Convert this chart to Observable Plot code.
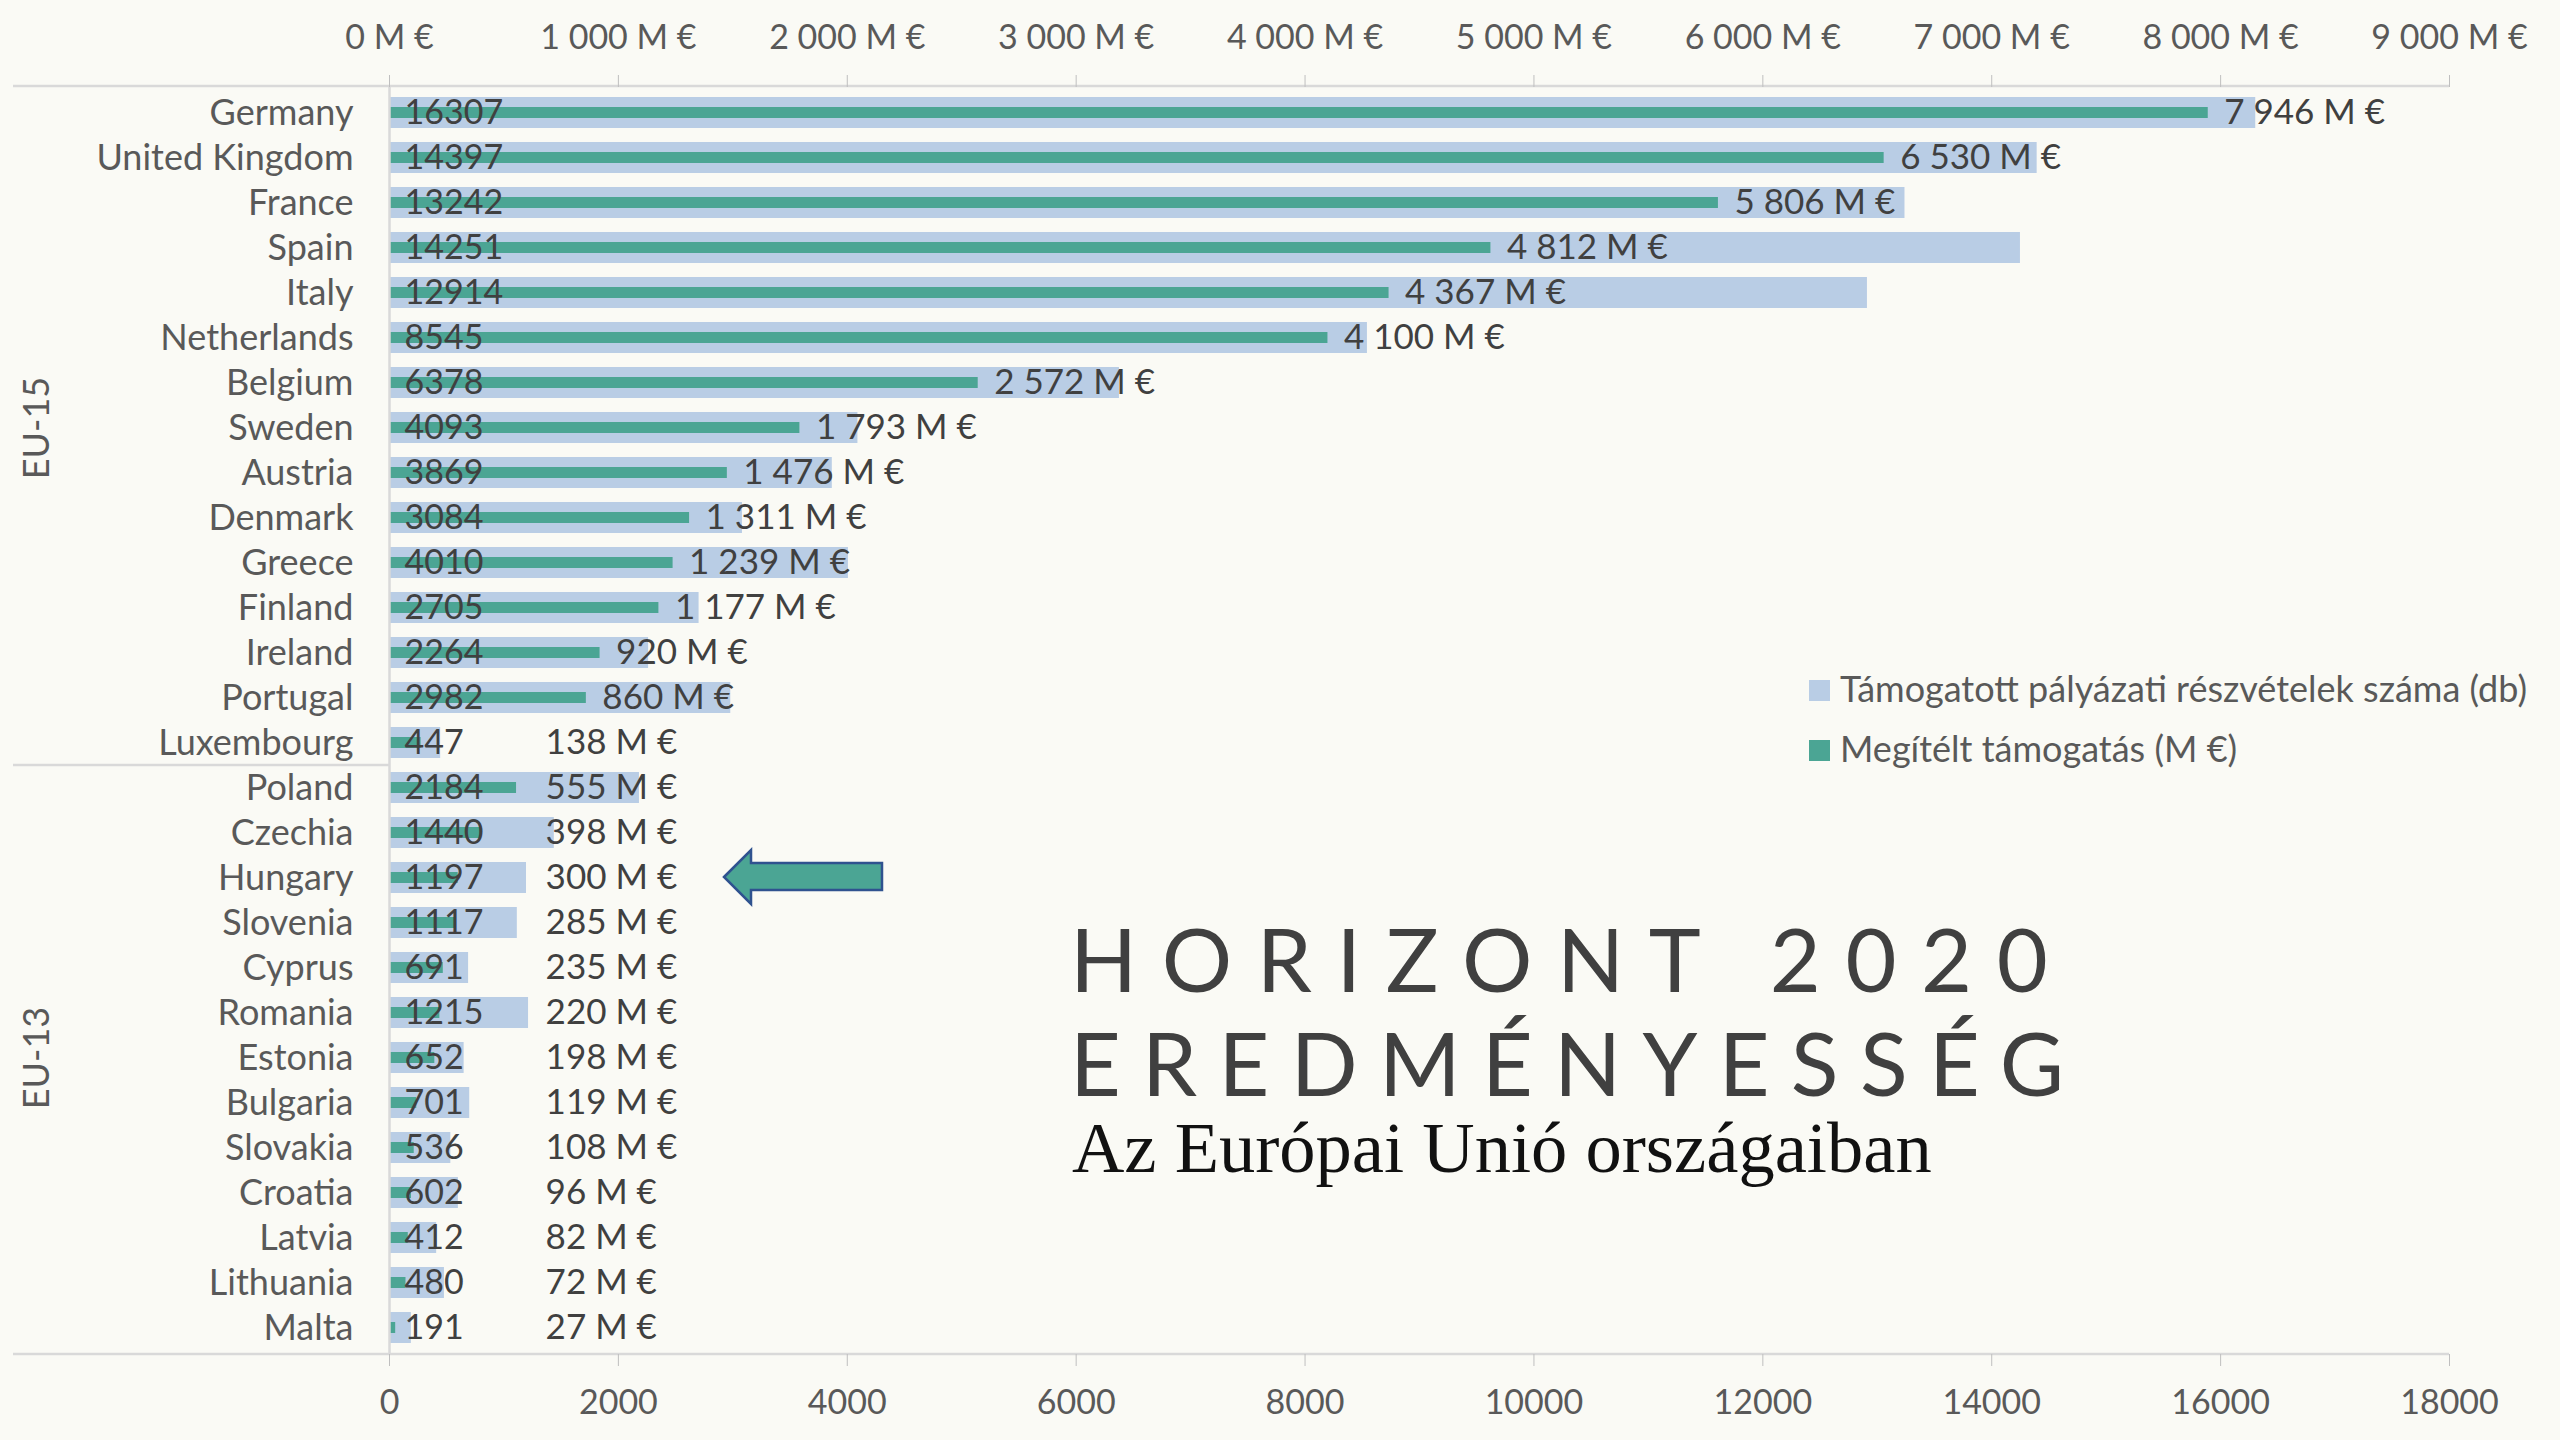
<!DOCTYPE html>
<html>
<head>
<meta charset="utf-8">
<script src="https://cdn.jsdelivr.net/npm/d3@7"></script>
<script src="https://cdn.jsdelivr.net/npm/@observablehq/plot@0.6"></script>
<style>
  html, body { margin: 0; padding: 0; background: #FAFAF5; }
  #wrap { position: relative; width: 2560px; height: 1440px; background: #FAFAF5; font-family: Lato, "Open Sans", sans-serif; }
  #overlay { position: absolute; left: 0; top: 0; pointer-events: none; }
</style>
</head>
<body>
<div id="wrap">
  <div id="chart"></div>
  <svg id="overlay" width="2560" height="1440">
    <g font-family="Lato, 'Open Sans', sans-serif" font-size="36" fill="#595959">
      <rect x="1809" y="680" width="21" height="21" fill="#B9CDE5"></rect>
      <text x="1840" y="702">Támogatott pályázati részvételek száma (db)</text>
      <rect x="1809" y="740" width="21" height="21" fill="#4BA594"></rect>
      <text x="1840" y="762">Megítélt támogatás (M €)</text>
    </g>
    <g font-family="Lato, 'Open Sans', sans-serif" font-size="88" fill="#404040">
      <text x="1070" y="992" letter-spacing="24.6">HORIZONT 2020</text>
      <text x="1070" y="1096" letter-spacing="21.3">EREDMÉNYESSÉG</text>
    </g>
    <text x="1072" y="1172" font-family="'Liberation Serif', serif" font-size="72.5" fill="#111">Az Európai Unió országaiban</text>
    <polygon points="724,877 751,850 751,863 882,863 882,890 751,890 751,904" fill="#4BA594" stroke="#2F528F" stroke-width="2.5" stroke-linejoin="miter"></polygon>
  </svg>
</div>
<script>
// ---- data ----
const countries = ["Germany","United Kingdom","France","Spain","Italy","Netherlands","Belgium","Sweden","Austria","Denmark","Greece","Finland","Ireland","Portugal","Luxembourg","Poland","Czechia","Hungary","Slovenia","Cyprus","Romania","Estonia","Bulgaria","Slovakia","Croatia","Latvia","Lithuania","Malta"];
const participations = [16307,14397,13242,14251,12914,8545,6378,4093,3869,3084,4010,2705,2264,2982,447,2184,1440,1197,1117,691,1215,652,701,536,602,412,480,191];
const funding = [7946,6530,5806,4812,4367,4100,2572,1793,1476,1311,1239,1177,920,860,138,555,398,300,285,235,220,198,119,108,96,82,72,27];
const groupNames = ["EU-15","EU-13"];
const groupSizes = [15, 13];
const countTicks = [0,2000,4000,6000,8000,10000,12000,14000,16000,18000];
const fundingTicks = [0,1000,2000,3000,4000,5000,6000,7000,8000,9000];

// ---- build table ----
const rows = countries.map((c, i) => ({country: c, count: participations[i], funding: funding[i]}));
// funding axis (0–9000 M €) shares the pixel range of count axis (0–18000)
const ratio = countTicks[countTicks.length - 1] / fundingTicks[fundingTicks.length - 1];
const sp = s => s.replace(/,/g, " ");
const fmtM = v => sp(d3.format(",")(v)) + " M €";

// group label rows (middle country of each group)
let start = 0;
const groups = groupNames.map((g, i) => {
  const mid = countries[start + Math.floor(groupSizes[i] / 2)];
  const r = {name: g, mid, first: countries[start]};
  start += groupSizes[i];
  return r;
});

const green = "#4BA594";
const blue = "#B9CDE5";
const labelMin = 612; // minimum position (M €) for funding labels of tiny bars

function frameLines(index, scales, values, dims) {
  const y = scales.y;
  const step = y(countries[1]) - y(countries[0]);
  const bw = y.bandwidth ? y.bandwidth() : step * 0.69;
  const top = dims.marginTop, bottom = dims.height - dims.marginBottom;
  const left = 13, right = dims.width - dims.marginRight;
  const g = d3.create("svg:g").attr("stroke", "#D9D9D9").attr("stroke-width", 2.5);
  g.append("line").attr("x1", left).attr("x2", right).attr("y1", top).attr("y2", top);
  g.append("line").attr("x1", left).attr("x2", right).attr("y1", bottom).attr("y2", bottom);
  for (const gr of groups.slice(1)) {
    const ys = y(gr.first) - (step - bw) / 2;
    g.append("line").attr("x1", left).attr("x2", dims.marginLeft).attr("y1", ys).attr("y2", ys);
  }
  return g.node();
}

const chart = Plot.plot({
  width: 2560,
  height: 1440,
  marginTop: 86,
  marginBottom: 86,
  marginLeft: 389,
  marginRight: 111,
  style: {fontFamily: "Lato, 'Open Sans', sans-serif", fontSize: "34px", background: "transparent", color: "#595959"},
  x: {domain: [0, countTicks[countTicks.length - 1]], axis: null},
  y: {domain: countries, paddingInner: 0.31, paddingOuter: 0.155, axis: null},
  marks: [
    Plot.barX(rows, {x: "count", y: "country", fill: blue}),
    Plot.barX(rows, {x: d => d.funding * ratio, y: "country", fill: green, insetTop: 10, insetBottom: 10}),
    Plot.ruleX([0], {stroke: "#D9D9D9", strokeWidth: 2.5}),
    frameLines,
    Plot.axisX({anchor: "top", ticks: countTicks, tickFormat: d => fmtM(d / ratio), tickSize: 12, tickPadding: 26, stroke: "#BFBFBF", fill: "#595959", fontSize: 34, label: null}),
    Plot.axisX({anchor: "bottom", ticks: countTicks, tickFormat: d => String(d), tickSize: 12, tickPadding: 23, stroke: "#BFBFBF", fill: "#595959", fontSize: 34, label: null}),
    Plot.axisY({anchor: "left", tickSize: 0, tickPadding: 36, fill: "#595959", fontSize: 36, label: null}),
    Plot.text(rows, {x: 0, y: "country", text: d => String(d.count), textAnchor: "start", dx: 15, fill: "#404040", fontSize: 34}),
    Plot.text(rows, {x: d => Math.max(d.funding, labelMin) * ratio, y: "country", text: d => fmtM(d.funding), textAnchor: "start", dx: 16, fill: "#404040", fontSize: 35}),
    Plot.text(groups, {y: "mid", text: "name", frameAnchor: "left", textAnchor: "middle", dx: -352, rotate: -90, fill: "#595959", fontSize: 36})
  ]
});
document.getElementById("chart").appendChild(chart);
</script>
</body>
</html>
